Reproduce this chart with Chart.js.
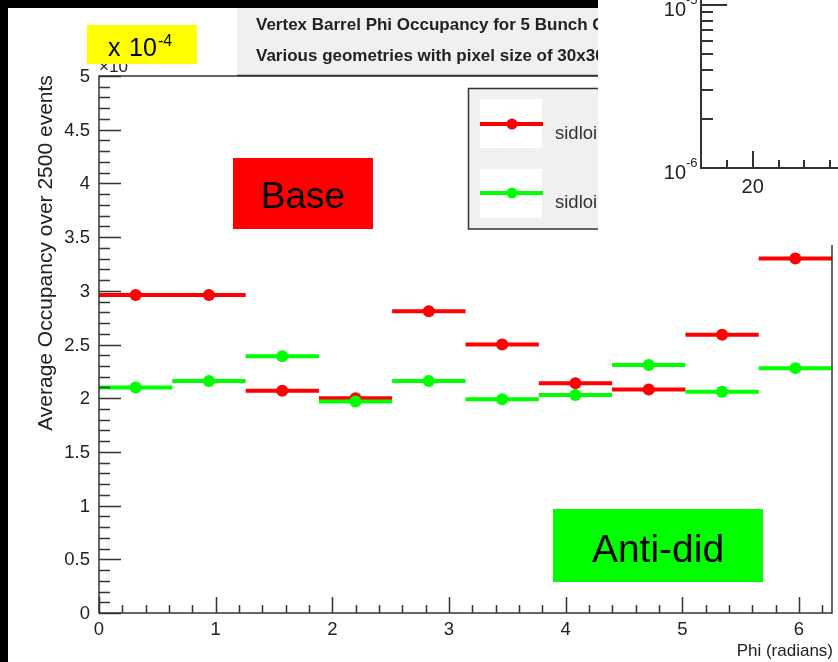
<!DOCTYPE html>
<html>
<head>
<meta charset="utf-8">
<script src="https://cdn.jsdelivr.net/npm/chart.js@4.4.1/dist/chart.umd.min.js"></script>
<style>
  body { margin: 0; background: #000; }
  #wrap { position: relative; width: 838px; height: 662px; overflow: hidden; }
  #main { position: absolute; left: 0; top: 0; }
  #inset { position: absolute; left: 598px; top: 0; }
</style>
</head>
<body>
<div id="wrap">
  <canvas id="main" width="838" height="662"></canvas>
  <canvas id="inset" width="240" height="245"></canvas>
</div>
<script>
// phi bins (10 bins over 0..2pi) and the two occupancy series, in units of 1e-4
const binEdges = [0, 0.628, 1.257, 1.885, 2.513, 3.142, 3.770, 4.398, 5.027, 5.655, 6.283];
const baseOcc = [2.96, 2.96, 2.07, 2.00, 2.81, 2.50, 2.14, 2.08, 2.59, 3.30];
const antiDidOcc = [2.10, 2.16, 2.39, 1.97, 2.16, 1.99, 2.03, 2.31, 2.06, 2.28];
const seriesNames = ['sidloi3', 'sidloi3_antidid'];
const yTickLabels = ['0', '0.5', '1', '1.5', '2', '2.5', '3', '3.5', '4', '4.5', '5'];
const xTickLabels = ['0', '1', '2', '3', '4', '5', '6'];
const titleLines = ['Vertex Barrel Phi Occupancy for 5 Bunch Crossings', 'Various geometries with pixel size of 30x30'];

const FONT = "'Liberation Sans', Arial, sans-serif";
const INK = '#222';

function binLines(vals) {
    const pts = [];
    vals.forEach((v, i) => {
        pts.push({ x: binEdges[i], y: v }, { x: binEdges[i + 1], y: v }, { x: binEdges[i + 1], y: null });
    });
    return pts;
}

function binPoints(vals) {
    return vals.map((v, i) => ({ x: (binEdges[i] + binEdges[i + 1]) / 2, y: v }));
}

const rootAxes = {
    id: 'rootAxes',
    beforeDraw(chart) {
        const c = chart.ctx;
        c.save();
        c.fillStyle = '#000';
        c.fillRect(0, 0, chart.width, chart.height);
        c.fillStyle = '#fff';
        c.fillRect(8, 8, chart.width - 8, chart.height - 8);
        c.restore();
    },
    afterDraw(chart) {
        const c = chart.ctx;
        const xs = chart.scales.x, ys = chart.scales.y, a = chart.chartArea;
        c.save();

        // frame
        c.strokeStyle = '#333';
        c.lineWidth = 1.5;
        c.strokeRect(a.left, a.top, a.right - a.left, a.bottom - a.top);

        // y ticks (inside), major every 0.5, minor every 0.1
        c.beginPath();
        for (let i = 0; i <= 50; i++) {
            const py = Math.round(ys.getPixelForValue(i / 10)) + 0.5;
            const len = i % 5 === 0 ? 22 : 11;
            c.moveTo(a.left, py);
            c.lineTo(a.left + len, py);
        }
        // x ticks, major every 1, minor every 0.2
        for (let i = 0; i <= 31; i++) {
            const px = Math.round(xs.getPixelForValue(i / 5)) + 0.5;
            const len = i % 5 === 0 ? 16 : 8;
            c.moveTo(px, a.bottom);
            c.lineTo(px, a.bottom - len);
        }
        c.stroke();

        c.fillStyle = INK;
        c.font = '18.5px ' + FONT;
        c.textAlign = 'right';
        c.textBaseline = 'middle';
        yTickLabels.forEach(t => {
            c.fillText(t, a.left - 9, ys.getPixelForValue(parseFloat(t)) + 1);
        });
        c.textAlign = 'center';
        c.textBaseline = 'top';
        xTickLabels.forEach(t => {
            c.fillText(t, xs.getPixelForValue(parseFloat(t)), a.bottom + 8);
        });

        // axis titles
        c.textBaseline = 'alphabetic';
        c.font = '17px ' + FONT;
        c.textAlign = 'right';
        c.fillText('Phi (radians)', a.right + 1, 656);
        c.save();
        c.translate(52, 253);
        c.rotate(-Math.PI / 2);
        c.font = '21px ' + FONT;
        c.textAlign = 'center';
        c.fillText('Average Occupancy over 2500 events', 0, 0);
        c.restore();

        // ROOT exponent, mostly hidden under the yellow note
        c.font = '17px ' + FONT;
        c.textAlign = 'left';
        c.fillText('\u00d710', a.left, 72);

        // title pave
        c.fillStyle = '#f0f0f0';
        c.fillRect(237, 8, 400, 67);
        c.beginPath();
        c.moveTo(237, 75.5);
        c.lineTo(640, 75.5);
        c.stroke();
        c.fillStyle = INK;
        c.font = 'bold 17px ' + FONT;
        c.fillText(titleLines[0], 256, 30);
        c.fillText(titleLines[1], 256, 61);

        // legend
        c.fillStyle = '#f0f0f0';
        c.fillRect(468, 88, 170, 141);
        c.strokeRect(468.5, 88.5, 170, 140.5);
        const ds = chart.data.datasets;
        const legendRows = [{ mid: 124, top: 99, color: ds[3].borderColor, name: seriesNames[0] },
                            { mid: 193, top: 169, color: ds[1].borderColor, name: seriesNames[1] }];
        legendRows.forEach(r => {
            c.fillStyle = '#fff';
            c.fillRect(480, r.top, 62, 49);
            c.strokeStyle = r.color;
            c.lineWidth = 4;
            c.beginPath();
            c.moveTo(480, r.mid);
            c.lineTo(543, r.mid);
            c.stroke();
            c.fillStyle = r.color;
            c.beginPath();
            c.arc(512, r.mid, 5.5, 0, Math.PI * 2);
            c.fill();
            c.fillStyle = '#333';
            c.font = '18.5px ' + FONT;
            c.fillText(r.name, 555, r.mid + 15);
        });

        // yellow exponent note
        c.fillStyle = '#ffff00';
        c.fillRect(87, 25, 110, 39);
        c.fillStyle = '#000';
        c.font = '25px ' + FONT;
        c.fillText('x', 108, 56);
        c.fillText('10', 129, 56);
        c.font = '16px ' + FONT;
        c.fillText('-4', 158, 46);

        // category notes
        c.textAlign = 'center';
        c.fillStyle = '#ff0000';
        c.fillRect(233, 158, 140, 71);
        c.fillStyle = '#000';
        c.font = '37px ' + FONT;
        c.fillText('Base', 303, 208);
        c.fillStyle = '#00ff00';
        c.fillRect(553, 509, 210, 73);
        c.fillStyle = '#000';
        c.font = '39px ' + FONT;
        c.fillText('Anti-did', 658, 562);

        c.restore();
    }
};

new Chart(document.getElementById('main'), {
    type: 'scatter',
    data: {
        datasets: [
            { type: 'scatter', data: binPoints(antiDidOcc), backgroundColor: '#00ff00', pointRadius: 6, pointBorderWidth: 0, order: 0 },
            { type: 'line', data: binLines(antiDidOcc), borderColor: '#00ff00', borderWidth: 4, pointRadius: 0, spanGaps: false, order: 1 },
            { type: 'scatter', data: binPoints(baseOcc), backgroundColor: '#ff0000', pointRadius: 6, pointBorderWidth: 0, order: 2 },
            { type: 'line', data: binLines(baseOcc), borderColor: '#ff0000', borderWidth: 4, pointRadius: 0, spanGaps: false, order: 3 },
        ]
    },
    options: {
        responsive: false,
        animation: false,
        devicePixelRatio: 1,
        layout: { padding: { left: 99, top: 76, right: 2, bottom: 49 } },
        plugins: { legend: { display: false }, tooltip: { enabled: false } },
        scales: {
            x: { type: 'linear', min: 0, max: 6.283, display: false },
            y: { type: 'linear', min: 0, max: 5, display: false },
        },
    },
    plugins: [rootAxes],
});

// the pasted corner of another (log scale) plot
const insetAxes = {
    id: 'insetAxes',
    beforeDraw(chart) {
        chart.ctx.fillStyle = '#fff';
        chart.ctx.fillRect(0, 0, chart.width, chart.height);
    },
    afterDraw(chart) {
        const c = chart.ctx, xs = chart.scales.x, ys = chart.scales.y, a = chart.chartArea;
        c.save();
        c.strokeStyle = '#333';
        c.lineWidth = 2;
        c.beginPath();
        c.moveTo(a.left, 0);
        c.lineTo(a.left, a.bottom);
        c.lineTo(chart.width, a.bottom);
        for (let k = 2; k <= 10; k++) {
            const py = Math.round(ys.getPixelForValue(k * 1e-6));
            c.moveTo(a.left, py);
            c.lineTo(a.left + (k === 10 ? 26 : 12), py);
        }
        for (let v = 15; v <= 35; v += 5) {
            const px = Math.round(xs.getPixelForValue(v));
            c.moveTo(px, a.bottom);
            c.lineTo(px, a.bottom - (v % 20 === 0 ? 17 : 8));
        }
        c.stroke();
        c.fillStyle = INK;
        c.font = '20px ' + FONT;
        c.textAlign = 'right';
        c.fillText('10', a.left - 15, ys.getPixelForValue(1e-6) + 11);
        c.fillText('10', a.left - 15, ys.getPixelForValue(1e-5) + 11);
        c.font = '13px ' + FONT;
        c.textAlign = 'left';
        c.fillText('-6', a.left - 15, ys.getPixelForValue(1e-6) - 1);
        c.fillText('-5', a.left - 15, ys.getPixelForValue(1e-5) - 1);
        c.font = '20px ' + FONT;
        c.textAlign = 'center';
        c.fillText('20', xs.getPixelForValue(20), a.bottom + 25);
        c.restore();
    }
};

new Chart(document.getElementById('inset'), {
    type: 'scatter',
    data: { datasets: [{ data: [] }] },
    options: {
        responsive: false,
        animation: false,
        devicePixelRatio: 1,
        layout: { padding: { left: 103, top: 5, right: 0, bottom: 77 } },
        plugins: { legend: { display: false }, tooltip: { enabled: false } },
        scales: {
            x: { type: 'linear', min: 10, max: 36.5, display: false },
            y: { type: 'logarithmic', min: 1e-6, max: 1e-5, display: false },
        },
    },
    plugins: [insetAxes],
});
</script>
</body>
</html>
